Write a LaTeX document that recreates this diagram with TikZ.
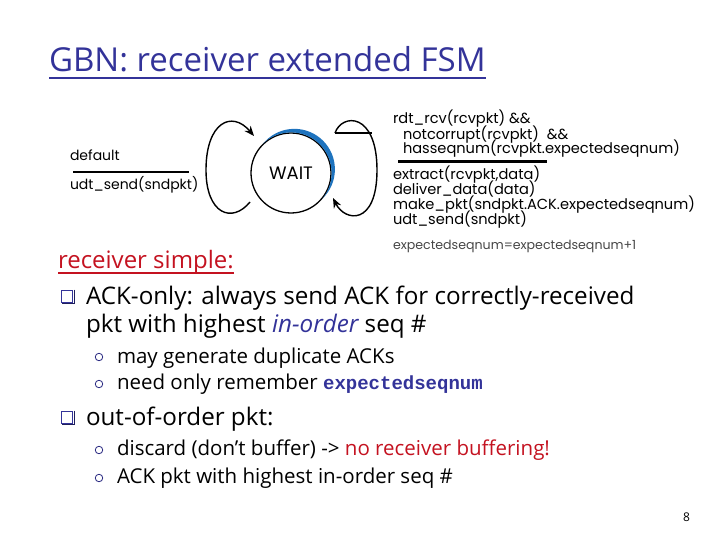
\documentclass[tikz,border=0pt]{standalone}
\usepackage{fontspec}
\setmainfont{Open Sans}
\newfontfamily\fsmfont{Poppins}
\newfontfamily\codefont{Liberation Mono}
\usetikzlibrary{arrows.meta,calc}
\definecolor{ttlblue}{RGB}{51,51,153}
\definecolor{sred}{RGB}{196,18,32}
\definecolor{arcblue}{RGB}{30,115,190}
\definecolor{fsmgray}{RGB}{70,70,70}
\begin{document}
\begin{tikzpicture}[x=1pt,y=-1pt,
  txt/.style={anchor=base west,inner sep=0pt,outer sep=0pt},
  fsm/.style={txt,font=\fsmfont\fontsize{14.6}{16}\selectfont},
  lvlone/.style={txt,font=\fontsize{24.2}{26}\selectfont},
  lvltwo/.style={txt,font=\fontsize{20.5}{22}\selectfont},
  sqbul/.style={draw=ttlblue,line width=1.1pt,minimum size=11.5pt,inner sep=0pt,fill=white},
  cbul/.style={circle,draw=ttlblue!85!black,line width=0.8pt,minimum size=7.5pt,inner sep=0pt},
  loopline/.style={line width=1.4pt,-{Stealth[length=10pt,width=8pt]}},
  sepline/.style={line width=1.5pt}
]
\useasboundingbox (0,0) rectangle (720,540);

% title
\node[txt,font=\fontsize{33}{36}\selectfont,text=ttlblue] (title) at (49,72) {GBN: receiver extended FSM};
\draw[ttlblue,line width=2pt] ([yshift=-6pt]title.base west) -- ([yshift=-6pt]title.base east);

% FSM state
\node[circle,draw,line width=1.3pt,minimum size=80pt,inner sep=0pt,font=\fsmfont\fontsize{18}{20}\selectfont] (wait) at (291,173) {WAIT};
\begin{scope}
  \clip ($(wait.center)+(47:5pt)$) circle (40.5pt);
  \fill[arcblue,even odd rule] (wait.center) circle (40.6pt) (wait.center) circle (70pt);
\end{scope}

% left self loop
\coordinate (lls) at (250,202);
\coordinate (lle) at (254,136);
\draw[loopline] (lls) .. controls (232,224) and (206,214) .. (206,170)
  .. controls (206,122) and (232,110) .. (lle);
% right self loop
\coordinate (rls) at (335,133);
\coordinate (rle) at (333,198);
\coordinate (rlc) at (372,133);
\draw[loopline] (rls) .. controls (342,113) and (377,112) .. (377,170)
  .. controls (377,226) and (345,222) .. (rle);
\draw[line width=1.2pt] (rls) -- (rlc);

% left label
\node[fsm,font=\fsmfont\fontsize{14}{16}\selectfont] (dflt) at (70,161) {default};
\coordinate (lsa) at (73,172);
\coordinate (lsb) at (189,172);
\draw[sepline] (lsa) -- (lsb);
\node[fsm,font=\fsmfont\fontsize{14}{16}\selectfont] (usend) at (70,190) {udt\_send(sndpkt)};

% right label
\node[fsm] (r1) at (393,124) {rdt\_rcv(rcvpkt) \&\&};
\node[fsm] (r2) at (403,140) {notcorrupt(rcvpkt)~~\&\&};
\node[fsm] (r3) at (403,154) {hasseqnum(rcvpkt.expectedseqnum)};
\coordinate (rsa) at (398,162);
\coordinate (rsb) at (547,162);
\draw[line width=3pt] (rsa) -- (rsb);
\node[fsm] (r4) at (393,180) {extract(rcvpkt,data)};
\node[fsm] (r5) at (393,195) {deliver\_data(data)};
\node[fsm] (r6) at (393,210) {make\_pkt(sndpkt.ACK.expectedseqnum)};
\node[fsm] (r7) at (393,225) {udt\_send(sndpkt)};
\node[fsm,font=\fsmfont\fontsize{12.6}{14}\selectfont,text=fsmgray] (r8) at (393,249) {expectedseqnum=expectedseqnum+1};

% bullets
\node[txt,font=\fontsize{24}{26}\selectfont,text=sred] (rs) at (58,268) {receiver simple:};
\draw[sred,line width=2pt] ([yshift=-4.5pt]rs.base west) -- ([yshift=-4.5pt]rs.base east);

\node[sqbul] (b1) at (67,296.5) {};
\draw[ttlblue!60!black,line width=1pt] ([xshift=1pt,yshift=0.5pt]b1.north east) |- ([xshift=1pt,yshift=-1pt]b1.south west);
\node[lvlone] (t1a) at (86,304) {ACK-only: always send ACK for correctly-received};
\node[lvlone] (t1b) at (86,332) {pkt with highest \textcolor{ttlblue}{\itshape in-order} seq \#};

\node[cbul] (c1) at (99,357) {};
\node[lvltwo] (t2a) at (117,363) {may generate duplicate ACKs};
\node[cbul] (c2) at (99,384) {};
\node[lvltwo] (t2b) at (117,389) {need only remember \textcolor{ttlblue}{\codefont\bfseries\fontsize{19}{22}\selectfont expectedseqnum}};

\node[sqbul] (b2) at (67,417.5) {};
\draw[ttlblue!60!black,line width=1pt] ([xshift=1pt,yshift=0.5pt]b2.north east) |- ([xshift=1pt,yshift=-1pt]b2.south west);
\node[lvlone] (t3) at (86,425) {out-of-order pkt:};

\node[cbul] (c3) at (99,450) {};
\node[lvltwo] (t4a) at (117,455) {discard (don’t buffer) -> \textcolor{sred}{no receiver buffering!}};
\node[cbul] (c4) at (99,478) {};
\node[lvltwo] (t4b) at (117,483) {ACK pkt with highest in-order seq \#};

\node[txt,font=\fontsize{12}{14}\selectfont] (pg) at (683,521) {8};
\end{tikzpicture}
\end{document}
